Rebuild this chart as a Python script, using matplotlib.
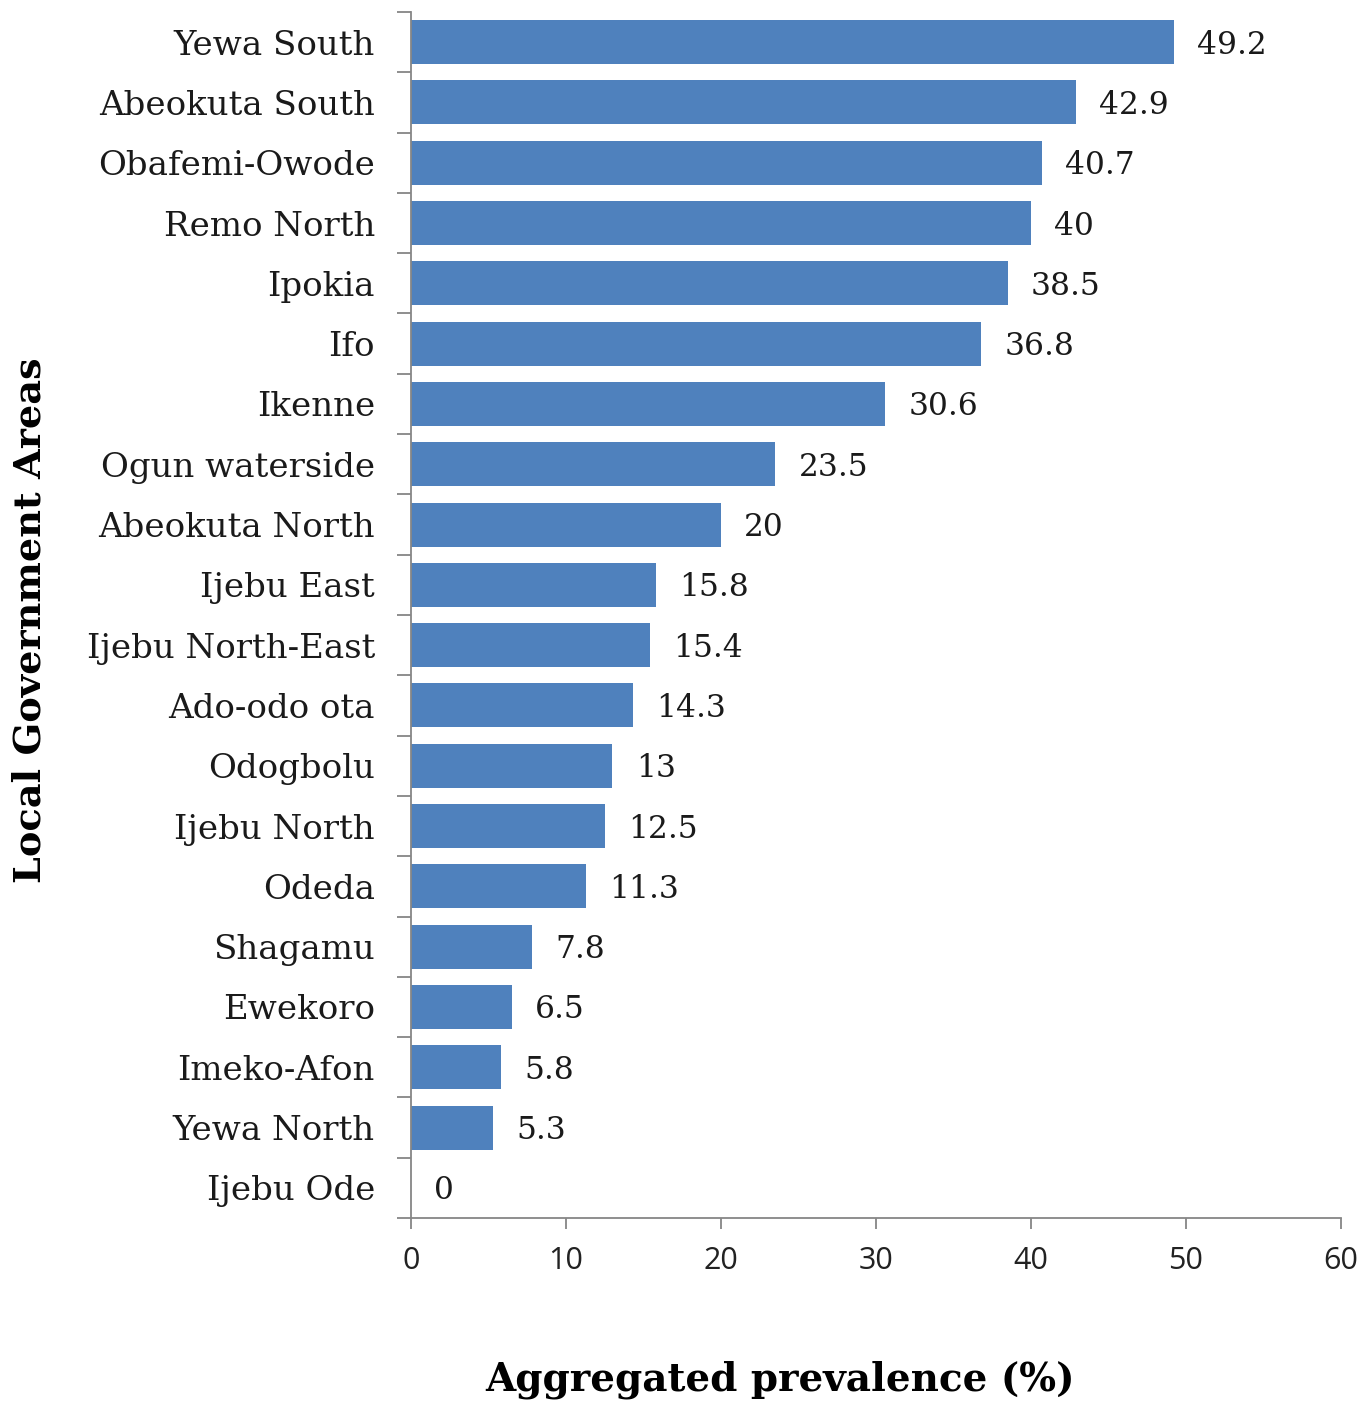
import matplotlib
matplotlib.use("Agg")
import matplotlib.pyplot as plt

# Aggregated prevalence by LGA, highest first
lgas = ["Yewa South", "Abeokuta South", "Obafemi-Owode", "Remo North", "Ipokia",
        "Ifo", "Ikenne", "Ogun waterside", "Abeokuta North", "Ijebu East",
        "Ijebu North-East", "Ado-odo ota", "Odogbolu", "Ijebu North", "Odeda",
        "Shagamu", "Ewekoro", "Imeko-Afon", "Yewa North", "Ijebu Ode"]
prevalence = [49.2, 42.9, 40.7, 40, 38.5, 36.8, 30.6, 23.5, 20, 15.8,
              15.4, 14.3, 13, 12.5, 11.3, 7.8, 6.5, 5.8, 5.3, 0]
xticks = [0, 10, 20, 30, 40, 50, 60]

serif = "DejaVu Serif"
sans = "Open Sans"
grey = "#868686"

fig = plt.figure(figsize=(13.7, 14.06), dpi=100)
ax = fig.add_axes([0.3, 0.1337, 0.6788, 0.8578])

pos = list(range(len(lgas)))
bars = ax.barh(pos, prevalence, height=0.73, color="#4F81BD")

for b, v in zip(bars, prevalence):
    ax.text(b.get_width() + 1.5, b.get_y() + b.get_height() / 2 + 0.05, f"{v:g}",
            va="center", ha="left", fontsize=22.5, family=serif, color="#1a1a1a")

ax.set_xlim(0, 60)
ax.set_ylim(len(lgas) - 0.5, -0.5)
ax.set_xticks(xticks)
ax.set_xticklabels([str(t) for t in xticks], family=sans, fontsize=22, color="#222222")

# category labels in the middle, ticks on the boundaries
ax.set_yticks(pos)
ax.set_yticklabels(lgas, family=serif, fontsize=24.5, color="#1a1a1a")
ax.tick_params(axis="y", which="major", length=0, pad=26)
ax.set_yticks([p - 0.5 for p in pos] + [len(lgas) - 0.5], minor=True)
ax.tick_params(axis="y", which="minor", length=10, width=1.3, color=grey)
ax.tick_params(axis="x", length=8, width=1.3, color=grey, pad=12)

for s in ["top", "right"]:
    ax.spines[s].set_visible(False)
for s in ["left", "bottom"]:
    ax.spines[s].set_color(grey)
    ax.spines[s].set_linewidth(1.3)

fig.text(30 / 1370, 1 - 620 / 1406, "Local Government Areas", rotation=90,
         ha="center", va="center", fontsize=27.5, fontweight="bold", family=serif)
fig.text(780 / 1370, 1 - 1380 / 1406, "Aggregated prevalence (%)",
         ha="center", va="center", fontsize=28, fontweight="bold", family=serif)

fig.savefig("out.png", dpi=100)
